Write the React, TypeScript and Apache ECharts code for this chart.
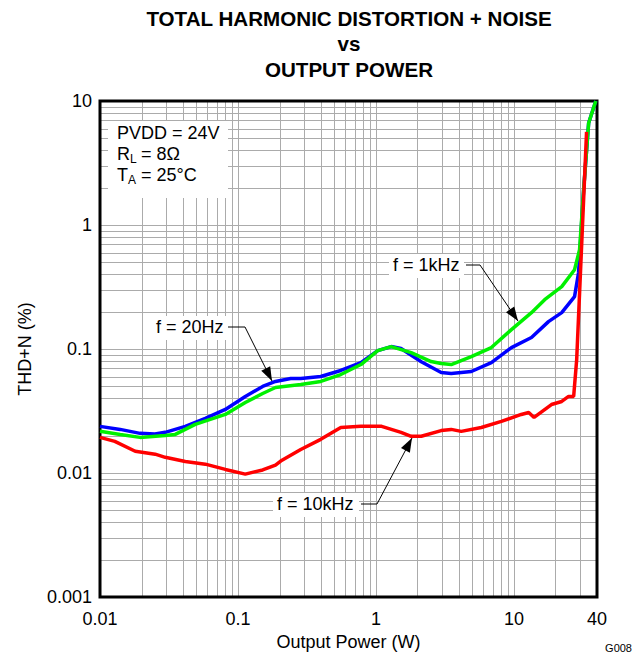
import React, { useEffect, useRef } from "react";
import * as echarts from "echarts";

// ---- Data ----
const power20Hz = [0.01, 0.014, 0.0195, 0.025, 0.0297, 0.0415, 0.058, 0.081, 0.113, 0.151, 0.187, 0.241, 0.285, 0.398, 0.556, 0.778, 1.03, 1.29, 1.52, 2.13, 2.97, 3.51, 4.91, 6.86, 9.59, 13.4, 17.8, 22.2, 27.5, 29.4, 29.9, 32.0, 34.8, 39.2];
const thd20Hz = [0.0238, 0.0225, 0.0209, 0.0207, 0.0213, 0.0238, 0.0276, 0.0326, 0.0415, 0.0499, 0.0548, 0.0579, 0.058, 0.0601, 0.0672, 0.0778, 0.0972, 0.1047, 0.1009, 0.079, 0.0647, 0.0635, 0.0659, 0.0778, 0.1028, 0.1238, 0.1664, 0.1966, 0.2645, 0.4127, 0.555, 1.92, 6.65, 10];

const power1kHz = [0.01, 0.014, 0.0195, 0.0297, 0.0351, 0.049, 0.081, 0.113, 0.151, 0.187, 0.285, 0.398, 0.556, 0.778, 1.03, 1.29, 1.8, 2.51, 2.97, 3.51, 4.91, 6.86, 9.59, 13.4, 16.7, 22.2, 27.5, 29.9, 32.0, 34.8, 39.2];
const thd1kHz = [0.0217, 0.0205, 0.0194, 0.0201, 0.0205, 0.0247, 0.0297, 0.0371, 0.0438, 0.049, 0.0518, 0.0548, 0.0623, 0.075, 0.0972, 0.1047, 0.0937, 0.0793, 0.0764, 0.075, 0.087, 0.1028, 0.1435, 0.1966, 0.2502, 0.3184, 0.4364, 0.632, 1.92, 6.65, 10];

const power10kHz = [0.01, 0.0128, 0.018, 0.0251, 0.0297, 0.0415, 0.058, 0.081, 0.113, 0.151, 0.187, 0.204, 0.285, 0.398, 0.556, 0.778, 1.1, 1.52, 1.8, 2.13, 2.97, 3.51, 4.15, 5.8, 8.11, 11.3, 12.8, 14.0, 18.7, 22.2, 24.9, 27.1, 28.5, 33.6];
const thd10kHz = [0.0194, 0.018, 0.015, 0.0142, 0.0134, 0.0124, 0.0118, 0.0107, 0.0098, 0.0106, 0.0116, 0.0125, 0.0155, 0.0187, 0.0233, 0.0238, 0.0238, 0.0213, 0.0198, 0.0198, 0.022, 0.0225, 0.0217, 0.0233, 0.0261, 0.0297, 0.0308, 0.0281, 0.0357, 0.0378, 0.0415, 0.0415, 0.0823, 5.63];

const X_MIN = 0.01;
const X_MAX = 40;
const Y_MIN = 0.001;
const Y_MAX = 10;

const xDecades = [0.01, 0.1, 1, 10];
const yDecades = [0.001, 0.01, 0.1, 1];
const multiples = [1, 2, 3, 4, 5, 6, 7, 8, 9];

const titleLines = ["TOTAL HARMONIC DISTORTION + NOISE", "vs", "OUTPUT POWER"];
const xAxisTitle = "Output Power (W)";
const yAxisTitle = "THD+N (%)";

const FONT = '"Liberation Sans", Arial, Helvetica, sans-serif';

function buildGridValues(decades: number[], lo: number, hi: number) {
  const out: number[] = [];
  decades.forEach((d) =>
    multiples.forEach((m) => {
      const v = parseFloat((d * m).toPrecision(6));
      if (v > lo && v < hi) out.push(v);
    })
  );
  return out;
}

function fmt(v: number) {
  return String(parseFloat(Number(v).toPrecision(6)));
}

function zip(xs: number[], ys: number[]) {
  return xs.map((x, i) => [x, ys[i]]);
}

function arrowHead(cx: number, cy: number, tx: number, ty: number, len = 14, half = 5) {
  const dx = tx - cx;
  const dy = ty - cy;
  const l = Math.sqrt(dx * dx + dy * dy);
  const ux = dx / l;
  const uy = dy / l;
  const bx = tx - ux * len;
  const by = ty - uy * len;
  const px = -uy * half;
  const py = ux * half;
  return [
    [tx, ty],
    [bx + px, by + py],
    [bx - px, by - py],
  ];
}

function labelWithArrow(
  text: string,
  box: [number, number, number, number],
  textX: number,
  textY: number,
  pts: number[][]
) {
  const corner = pts[pts.length - 2];
  const tip = pts[pts.length - 1];
  return [
    { type: "rect", shape: { x: box[0], y: box[1], width: box[2], height: box[3] }, style: { fill: "#fff" }, z: 50, silent: true },
    {
      type: "text",
      x: textX,
      y: textY,
      style: { text, font: `18px ${FONT}`, fill: "#000", verticalAlign: "middle", align: "left" },
      z: 51,
      silent: true,
    },
    { type: "polyline", shape: { points: pts }, style: { stroke: "#000", lineWidth: 1, fill: null }, z: 51, silent: true },
    { type: "polygon", shape: { points: arrowHead(corner[0], corner[1], tip[0], tip[1]) }, style: { fill: "#000" }, z: 52, silent: true },
  ];
}

export default function App() {
  const ref = useRef<HTMLDivElement>(null);

  useEffect(() => {
    if (!ref.current) return;
    const chart = echarts.init(ref.current, null, { renderer: "svg" });

    const xGrid = buildGridValues(xDecades, X_MIN, X_MAX);
    const yGrid = buildGridValues(yDecades, Y_MIN, Y_MAX);
    const gridData = [...xGrid.map((v) => [v, 1, 0]), ...yGrid.map((v) => [1, v, 1])];

    const graphic: any[] = [];
    // Title
    titleLines.forEach((t, i) => {
      graphic.push({
        type: "text",
        x: 349,
        y: 18 + i * 25.5,
        style: { text: t, font: `bold 20.6px ${FONT}`, fill: "#000", align: "center", verticalAlign: "middle" },
        silent: true,
      });
    });
    // Conditions box
    graphic.push({ type: "rect", shape: { x: 108, y: 121, width: 120, height: 77 }, style: { fill: "#fff" }, z: 50, silent: true });
    const condText = (text: string, x: number, y: number, size: number) => ({
      type: "text",
      x,
      y,
      style: { text, font: `${size}px ${FONT}`, fill: "#000", align: "left", verticalAlign: "middle" },
      z: 51,
      silent: true,
    });
    graphic.push(condText("PVDD = 24V", 117, 133, 18));
    graphic.push(condText("R", 117, 154, 18));
    graphic.push(condText("L", 130, 159, 12));
    graphic.push(condText(" = 8Ω", 136, 154, 18));
    graphic.push(condText("T", 117, 175, 18));
    graphic.push(condText("A", 128, 180, 12));
    graphic.push(condText(" = 25°C", 136, 175, 18));

    // Curve labels with arrows
    graphic.push(...labelWithArrow("f = 20Hz", [150, 316, 77, 24], 156, 327, [[228, 327], [245, 327], [272, 381]]));
    graphic.push(...labelWithArrow("f = 1kHz", [389, 254, 75, 24], 393, 265, [[466, 265], [480, 265], [518, 321]]));
    graphic.push(...labelWithArrow("f = 10kHz", [273, 493, 86, 24], 277, 504, [[361, 504], [377, 504], [412, 438]]));

    // Figure code
    graphic.push({
      type: "text",
      x: 632,
      y: 648,
      style: { text: "G008", font: `11px ${FONT}`, fill: "#000", align: "right", verticalAlign: "middle" },
      silent: true,
    });

    const lineSeries = (name: string, data: number[][], color: string, z: number) => ({
      type: "line",
      name,
      data,
      showSymbol: false,
      symbol: "none",
      smooth: false,
      z,
      lineStyle: { color, width: 3.5 },
      itemStyle: { color },
      silent: true,
    });

    chart.setOption({
      animation: false,
      backgroundColor: "#fff",
      textStyle: { fontFamily: FONT },
      grid: { left: 100, right: 40, top: 101, bottom: 58, show: true, borderColor: "#000", borderWidth: 3, backgroundColor: "transparent", z: 3 },
      xAxis: {
        type: "log",
        logBase: 10,
        min: X_MIN,
        max: X_MAX,
        axisLine: { show: false },
        axisTick: { show: false },
        splitLine: { show: false },
        axisLabel: { formatter: (v: number) => fmt(v), fontSize: 18, color: "#000", margin: 13, fontFamily: FONT, showMaxLabel: true, showMinLabel: true },
        name: xAxisTitle,
        nameLocation: "middle",
        nameGap: 31,
        nameTextStyle: { fontSize: 18, color: "#000", fontFamily: FONT },
      },
      yAxis: {
        type: "log",
        logBase: 10,
        min: Y_MIN,
        max: Y_MAX,
        axisLine: { show: false },
        axisTick: { show: false },
        splitLine: { show: false },
        axisLabel: { formatter: (v: number) => fmt(v), fontSize: 18, color: "#000", margin: 8, fontFamily: FONT },
        name: yAxisTitle,
        nameLocation: "middle",
        nameGap: 66,
        nameTextStyle: { fontSize: 18, color: "#000", fontFamily: FONT },
      },
      series: [
        {
          type: "custom",
          silent: true,
          z: 1,
          clip: true,
          dimensions: ["x", "y", "k"],
          encode: { x: 0, y: 1 },
          data: gridData,
          renderItem: (params: any, api: any) => {
            const k = api.value(2);
            if (k === 0) {
              const v = api.value(0);
              const p1 = api.coord([v, Y_MIN]);
              const p2 = api.coord([v, Y_MAX]);
              const x = Math.round(p1[0]) + 0.5;
              return { type: "line", shape: { x1: x, y1: p1[1], x2: x, y2: p2[1] }, style: { stroke: "#ababab", lineWidth: 1 } };
            }
            const v = api.value(1);
            const p1 = api.coord([X_MIN, v]);
            const p2 = api.coord([X_MAX, v]);
            const y = Math.round(p1[1]) + 0.5;
            return { type: "line", shape: { x1: p1[0], y1: y, x2: p2[0], y2: y }, style: { stroke: "#ababab", lineWidth: 1 } };
          },
        },
        lineSeries("f = 20Hz", zip(power20Hz, thd20Hz), "#0000ff", 4),
        lineSeries("f = 1kHz", zip(power1kHz, thd1kHz), "#00f000", 5),
        lineSeries("f = 10kHz", zip(power10kHz, thd10kHz), "#ff0000", 6),
      ],
      graphic,
    });

    return () => chart.dispose();
  }, []);

  return <div ref={ref} style={{ position: "fixed", left: 0, top: 0, width: 637, height: 656 }} />;
}
